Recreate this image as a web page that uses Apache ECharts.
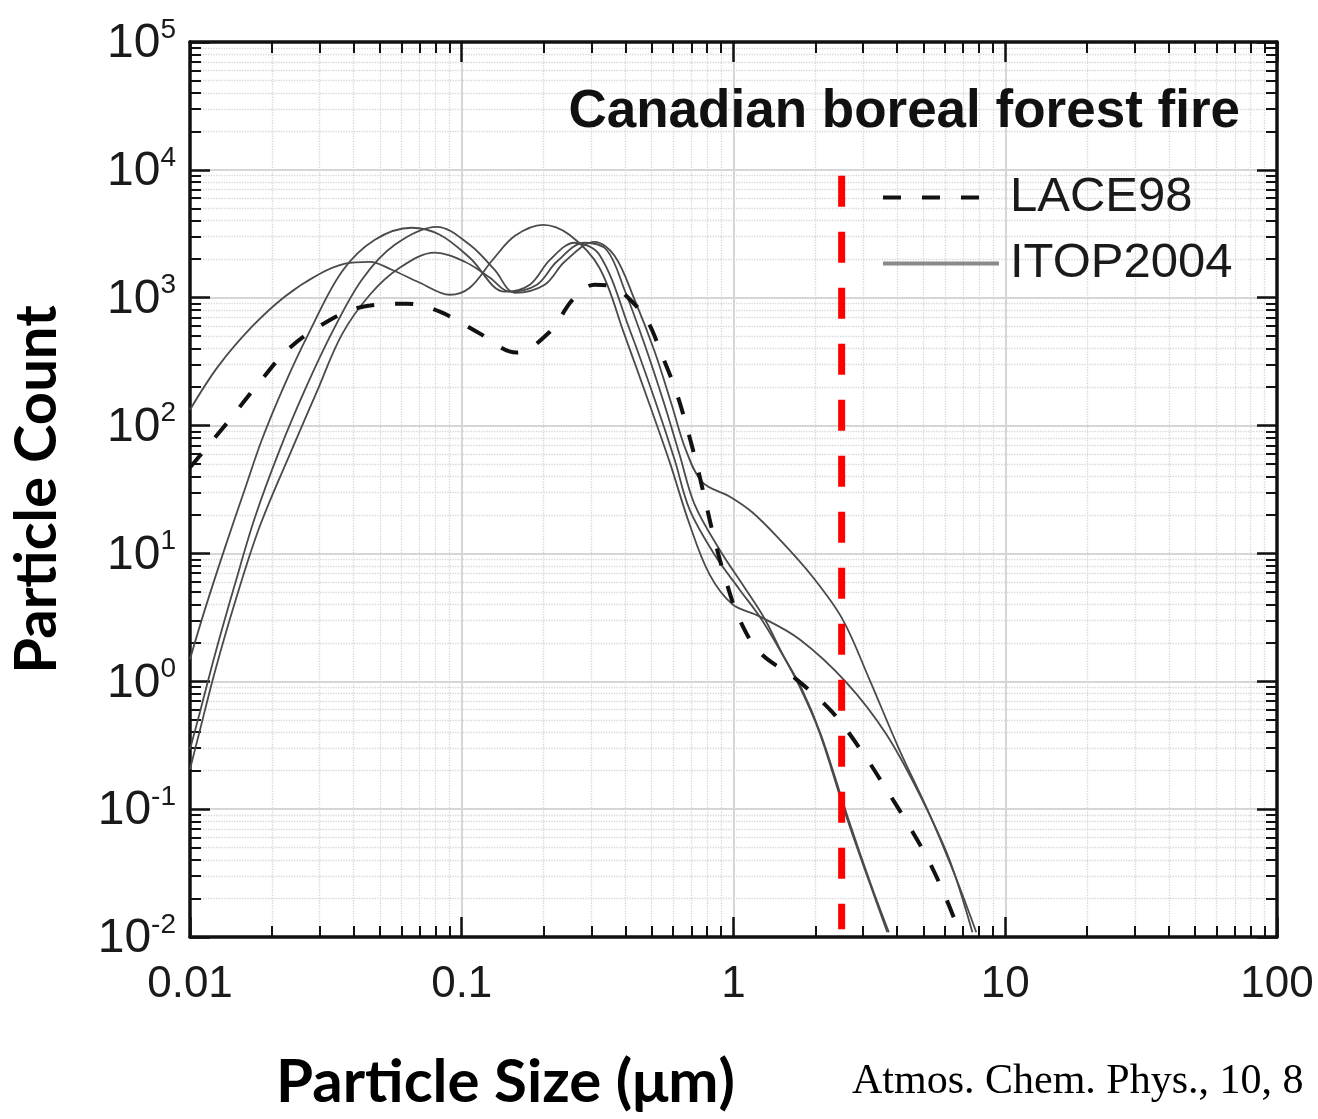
<!DOCTYPE html>
<html>
<head>
<meta charset="UTF-8">
<title>Canadian boreal forest fire</title>
<script src="https://cdn.jsdelivr.net/npm/echarts@6/dist/echarts.min.js"></script>
<style>
    html, body { margin: 0; padding: 0; background: #fff; }
    #main { width: 1318px; height: 1119px; }
</style>
</head>
<body>
<div id="main"></div>
<script type="text/javascript">
    // values: [particle size in um, particle count]
    const lace98 = [
        [0.0100, 47], [0.0137, 105], [0.0181, 221], [0.0233, 406], [0.0319, 649], [0.0432, 851],
        [0.0628, 898], [0.0830, 778], [0.1135, 542], [0.159, 372], [0.211, 542], [0.256, 965],
        [0.308, 1265], [0.359, 1219], [0.40, 1050], [0.479, 673], [0.548, 346], [0.617, 181],
        [0.677, 93], [0.737, 47], [0.796, 23.3], [0.851, 12.9], [0.942, 5.93], [1.052, 3.05],
        [1.246, 1.69], [1.70, 1.04], [2.31, 0.573], [2.98, 0.279], [3.65, 0.143], [4.43, 0.0736],
        [5.26, 0.0385], [6.07, 0.0198], [6.89, 0.0100]
    ];
    const itopA = [
        [0.0100, 133], [0.01267, 289], [0.0169, 593], [0.0223, 1019], [0.0296, 1513], [0.0372, 1845],
        [0.0459, 1910], [0.0553, 1655], [0.0701, 1309], [0.0904, 1055], [0.107, 1197],
        [0.130, 1980], [0.157, 3050], [0.199, 3715], [0.249, 3105], [0.321, 1715], [0.397, 514],
        [0.491, 146], [0.582, 52], [0.689, 16.9], [0.816, 6.85], [0.991, 4.0], [1.246, 3.22],
        [1.749, 2.13], [2.60, 0.98], [3.65, 0.385], [4.83, 0.131], [6.22, 0.0407], [7.57, 0.0109]
    ];
    const itopB = [
        [0.0100, 1.49], [0.01135, 3.65], [0.01345, 11.1], [0.0159, 31.6], [0.0184, 77.8], [0.0223, 209],
        [0.0272, 514], [0.0362, 1597], [0.0479, 2840], [0.0655, 3524], [0.083, 3105], [0.107, 2054],
        [0.144, 1114], [0.178, 1265], [0.211, 1980], [0.260, 2692], [0.321, 2168], [0.415, 562],
        [0.513, 160], [0.607, 54.2], [0.689, 22.1], [0.851, 9.8], [1.052, 5.23], [1.246, 3.22],
        [1.476, 1.78], [1.749, 0.914], [2.07, 0.40], [2.60, 0.088], [3.16, 0.0269], [3.68, 0.0109]
    ];
    const itopC = [
        [0.0100, 0.294], [0.0109, 0.583], [0.01236, 1.62], [0.01463, 5.73], [0.01733, 19.1], [0.0214, 64.9],
        [0.0265, 191], [0.0333, 533], [0.0429, 1384], [0.0567, 2596], [0.0809, 3586], [0.107, 2596],
        [0.132, 1655], [0.157, 1094], [0.202, 1265], [0.239, 1910], [0.308, 2738], [0.365, 2130],
        [0.4325, 965], [0.513, 378], [0.592, 146], [0.667, 64.9], [0.769, 35.9], [0.967, 27.9],
        [1.175, 20.9], [1.476, 12.9], [1.95, 6.6], [2.52, 3.05], [3.16, 1.04], [4.07, 0.294],
        [5.26, 0.0914], [6.61, 0.0284], [7.82, 0.0109]
    ];
    const itopD = [
        [0.0100, 0.205], [0.0109, 0.422], [0.01236, 1.20], [0.01463, 4.14], [0.01806, 16.3], [0.0237, 64.9],
        [0.0293, 184], [0.0362, 514], [0.0459, 1055], [0.0591, 1715], [0.0796, 2250], [0.1026, 1910],
        [0.127, 1432], [0.150, 1114], [0.189, 1265], [0.2235, 1910], [0.283, 2692], [0.341, 2371],
        [0.397, 1155], [0.471, 430], [0.557, 146], [0.633, 59.3], [0.719, 24.2], [0.889, 10.7],
        [1.098, 5.42], [1.30, 3.10], [1.50, 1.70], [1.78, 0.88], [2.10, 0.38], [2.64, 0.085],
        [3.20, 0.026], [3.73, 0.0109]
    ];
    // red dashed cut at 2.5 um
    const cutSize = 2.5;
    const cutSpan = [9000, 0.0115];

    const xTickLabels = ['0.01', '0.1', '1', '10', '100'];

    const FONT = '"Liberation Sans", Arial, Helvetica, sans-serif';
    const INK = '#1a1a1a';

    var myChart = echarts.init(document.getElementById('main'));

    // shared look of the box axes
    function boxAxis(pos, withLabels) {
        return {
            type: 'log',
            logBase: 10,
            position: pos,
            axisLine: {show: true, onZero: false, lineStyle: {color: '#111', width: 3.5}},
            axisTick: {show: true, inside: true, length: 20, lineStyle: {color: '#111', width: 2.5}},
            minorTick: {show: true, splitNumber: 9, length: 11, lineStyle: {color: '#111', width: 2}},
            splitLine: {show: withLabels, lineStyle: {color: '#d6d6d6', width: 2}},
            minorSplitLine: {show: withLabels, lineStyle: {color: '#d6d6d6', width: 1.3, type: 'dotted'}},
            axisLabel: {show: withLabels}
        };
    }

    let xBottom = boxAxis('bottom', true);
    xBottom.min = 0.01;
    xBottom.max = 100;
    xBottom.axisLabel = {
        show: true, fontSize: 44, color: INK, fontFamily: FONT, margin: 26,
        showMinLabel: true, showMaxLabel: true,
        formatter: v => xTickLabels[Math.round(Math.log10(v)) + 2]
    };
    let xTop = boxAxis('top', false);
    xTop.min = 0.01;
    xTop.max = 100;

    let yLeft = boxAxis('left', true);
    yLeft.min = 0.01;
    yLeft.max = 100000;
    yLeft.name = 'Particle Count';
    yLeft.nameLocation = 'middle';
    yLeft.nameGap = 124;
    yLeft.nameTextStyle = {fontSize: 58, fontWeight: 'bold', fontFamily: 'Lato, "Open Sans", sans-serif', color: '#000'};
    yLeft.axisLabel = {
        show: true, margin: 14, showMinLabel: true, showMaxLabel: true,
        formatter: v => '{b|10}{e|' + Math.round(Math.log10(v)) + '}',
        rich: {
            b: {fontSize: 48, fontFamily: FONT, color: INK, lineHeight: 52, verticalAlign: 'bottom'},
            e: {fontSize: 28, fontFamily: FONT, color: INK, lineHeight: 30, verticalAlign: 'top'}
        }
    };
    let yRight = boxAxis('right', false);
    yRight.min = 0.01;
    yRight.max = 100000;

    function itop(data) {
        return {
            name: 'ITOP2004', type: 'line', data: data, symbol: 'none', smooth: 0.35,
            itemStyle: {color: '#4a4a4a'},
            lineStyle: {color: '#4a4a4a', width: 1.8}, z: 3
        };
    }

    let option = {
        animation: false,
        backgroundColor: '#fff',
        grid: {left: 190, right: 41, top: 42, bottom: 182, containLabel: false, outerBoundsMode: 'none'},
        title: {
            text: 'Canadian boreal forest fire',
            right: 73, top: 81,
            textStyle: {fontSize: 53, fontWeight: 'bold', fontFamily: FONT, color: '#111'}
        },
        legend: {
            orient: 'vertical', left: 876, top: 168,
            itemWidth: 116, itemHeight: 20, itemGap: 17,
            selectedMode: false,
            textStyle: {fontSize: 49, fontFamily: FONT, color: INK, lineHeight: 48, padding: [0, 0, 0, 6]},
            data: [
                {name: 'LACE98', itemStyle: {opacity: 0}, lineStyle: {color: '#111', width: 4, type: [18, 21]}},
                {name: 'ITOP2004', itemStyle: {opacity: 0}, lineStyle: {color: '#8a8a8a', width: 4}}
            ]
        },
        xAxis: [xBottom, xTop],
        yAxis: [yLeft, yRight],
        graphic: [
            {
                type: 'text', left: 276, top: 1053,
                style: {text: 'Particle Size (μm)', font: 'bold 60px Lato, "Open Sans", sans-serif', fill: '#000'}
            },
            {
                type: 'text', left: 852, top: 1061,
                style: {text: 'Atmos. Chem. Phys., 10, 8', font: '42px "Liberation Serif", "Times New Roman", serif', fill: '#000'}
            }
        ],
        series: [
            itop(itopA), itop(itopB), itop(itopC), itop(itopD),
            {
                name: 'LACE98', type: 'line', data: lace98, symbol: 'none', smooth: 0.35,
                itemStyle: {color: '#111'},
                lineStyle: {color: '#111', width: 4, type: [18, 21]}, z: 4
            },
            {
                name: 'PM2.5', type: 'line', symbol: 'none',
                data: cutSpan.map(c => [cutSize, c]),
                itemStyle: {color: '#ff0000'},
                lineStyle: {color: '#ff0000', width: 7, type: [31, 25]}, z: 5
            }
        ]
    };

    myChart.setOption(option);
</script>
</body>
</html>
